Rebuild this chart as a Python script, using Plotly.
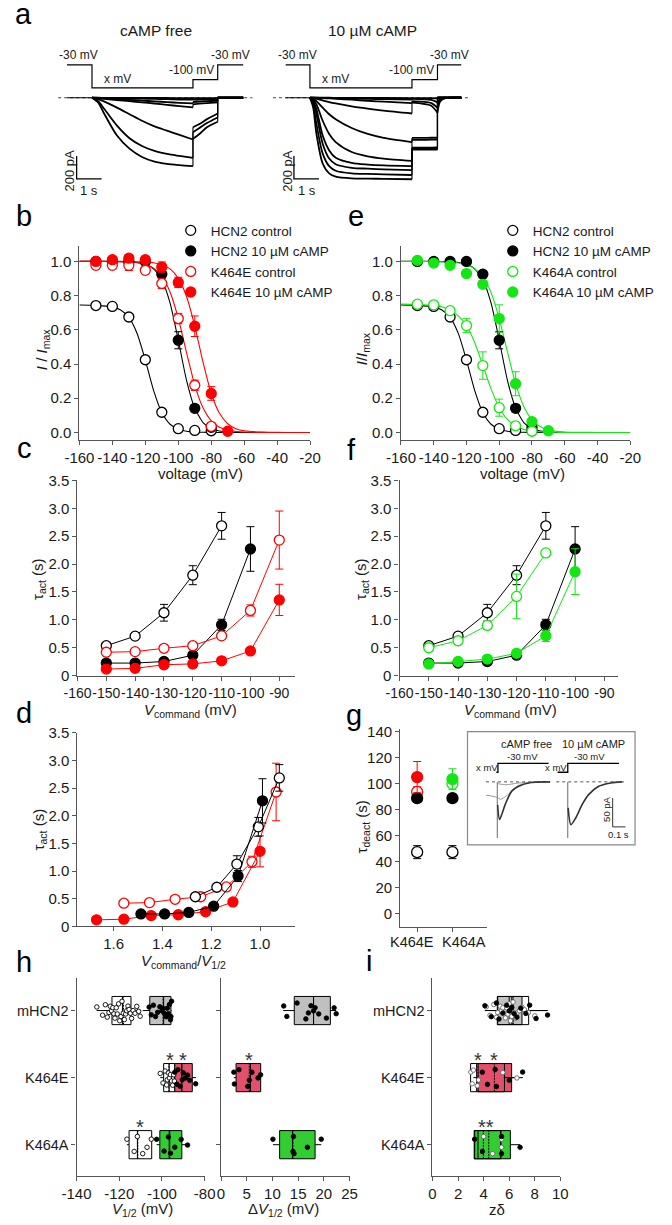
import plotly.graph_objects as go

W, H = 672, 1225
FONT = "Liberation Sans, Arial, Helvetica, sans-serif"
BLACK = "#000000"
RED = "#ff0000"
GREEN = "#14e614"
AXC = "#555555"
TXT = "#1a1a1a"
BOX_GRAY = "#c0c0c0"
BOX_RED = "#e2506c"
BOX_GREEN = "#33cc33"

# ======================= DATA =======================
# ---- panel a : current traces (s, pA) ----
a_free_protocol_t = [-1.0, 0, 0, 4.04, 4.04, 5.03, 5.03, 6.05]
a_free_protocol_mV = [-30, -30, -140, -140, -100, -100, -30, -30]
a_free_t_act = [0, 0.25, 0.5, 1.0, 1.5, 2.0, 2.5, 3.0, 3.5, 4.04]
a_free_I_act = [
    [0, -43, -143, -329, -443, -515, -555, -575, -586, -595],
    [0, -29, -100, -243, -352, -420, -463, -489, -506, -523],
    [0, -11, -34, -86, -143, -200, -249, -286, -323, -363],
    [0, -5, -10, -20, -30, -40, -50, -62, -72, -83],
    [0, -3, -6, -12, -18, -25, -31, -38, -44, -49],
    [0, -1, -2, -4, -6, -8, -10, -12, -15, -17],
    [0, 0, -1, -1, -1, -2, -2, -2, -3, -3],
]
a_free_t_tail = [4.04, 4.3, 4.6, 5.03]
a_free_I_tail = [
    [-357, -315, -257, -209],
    [-300, -263, -220, -172],
    [-257, -229, -186, -137],
    [-57, -51, -46, -40],
    [-37, -34, -29, -26],
    [-17, -17, -14, -11],
    [-3, -3, -3, -3],
]
a_free_t_post = [5.03, 5.3, 5.6, 6.05]
a_free_I_post = [[0, 0, 0, 0]] * 7

a_camp_protocol_t = [-0.97, 0, 0, 4.08, 4.08, 5.1, 5.1, 6.05]
a_camp_protocol_mV = [-30, -30, -140, -140, -100, -100, -30, -30]
a_camp_t_act = [0, 0.13, 0.26, 0.51, 0.77, 1.03, 1.67, 2.31, 2.95, 4.08]
a_camp_I_act = [
    [0, -86, -315, -572, -658, -686, -701, -703, -706, -709],
    [0, -57, -229, -486, -595, -635, -658, -663, -666, -672],
    [0, -37, -143, -400, -529, -578, -609, -617, -623, -629],
    [0, -29, -100, -329, -458, -521, -566, -581, -589, -595],
    [0, -17, -57, -200, -315, -386, -472, -509, -529, -549],
    [0, -9, -29, -86, -143, -186, -263, -315, -349, -386],
    [0, -3, -9, -23, -37, -49, -74, -94, -112, -137],
    [0, 0, -1, -3, -6, -9, -17, -26, -34, -46],
    [0, 0, 0, -1, -2, -3, -6, -9, -12, -17],
    [0, 0, 0, 0, 0, -1, -1, -2, -2, -3],
]
a_camp_t_tail = [4.08, 4.5, 4.85, 5.1]
a_camp_I_tail = [
    [-452, -452, -451, -450],
    [-446, -446, -445, -444],
    [-440, -440, -439, -438],
    [-435, -434, -433, -432],
    [-366, -366, -365, -364],
    [-349, -349, -348, -348],
    [-43, -52, -70, -129],
    [-29, -34, -46, -86],
    [-9, -12, -18, -40],
    [-3, -3, -4, -6],
]
a_camp_t_post = [5.1, 5.2, 5.35, 5.6, 6.05]
a_camp_I_post = [
    [0, 0, 0, 0, 0], [0, 0, 0, 0, 0], [0, 0, 0, 0, 0], [0, 0, 0, 0, 0],
    [0, 0, 0, 0, 0], [0, 0, 0, 0, 0],
    [-129, -35, -8, -1, 0], [-86, -22, -5, 0, 0], [-40, -10, -2, 0, 0], [-6, -2, 0, 0, 0],
]
a_scale_pA = 200
a_scale_s = 1

# ---- panels b / e : activation curves ----
v_pts = [-150, -140, -130, -120, -110, -100, -90, -80, -70]
hcn2_ctrl_I = [0.742, 0.737, 0.675, 0.425, 0.118, 0.022, 0.012, 0.010]
hcn2_ctrl_Ie = [0.01, 0.01, 0.015, 0.02, 0.015, 0.005, 0.005, 0.005]
hcn2_camp_I = [1.0, 1.0, 1.0, 1.0, 0.925, 0.539, 0.141, 0.03]
hcn2_camp_Ie = [0.01, 0.01, 0.01, 0.01, 0.02, 0.05, 0.02, 0.01]
k464e_ctrl_I = [0.977, 0.977, 0.977, 0.948, 0.871, 0.666, 0.276, 0.036]
k464e_ctrl_Ie = [0.02, 0.02, 0.03, 0.02, 0.03, 0.03, 0.03, 0.02]
k464e_camp_I = [1.0, 1.01, 1.019, 1.01, 0.967, 0.877, 0.621, 0.228, 0.007]
k464e_camp_Ie = [0.01, 0.01, 0.015, 0.02, 0.03, 0.03, 0.06, 0.04, 0.005]
k464a_ctrl_I = [0.75, 0.746, 0.712, 0.625, 0.391, 0.145, 0.039, 0.007]
k464a_ctrl_Ie = [0.01, 0.01, 0.01, 0.04, 0.08, 0.05, 0.015, 0.01]
k464a_camp_I = [1.006, 0.99, 0.977, 0.929, 0.866, 0.666, 0.285, 0.063, 0.01]
k464a_camp_Ie = [0.01, 0.01, 0.01, 0.02, 0.02, 0.08, 0.07, 0.02, 0.005]

v_fit = [-160, -150, -140, -135, -130, -125, -120, -115, -110, -105, -100, -95,
         -90, -85, -80, -75, -70, -65, -60, -50, -40, -30, -20]
hcn2_ctrl_fit = [0.745, 0.743, 0.734, 0.716, 0.673, 0.579, 0.423, 0.246, 0.116, 0.048, 0.019,
                 0.007, 0.003, 0.001, 0, 0, 0, 0, 0, 0, 0, 0, 0]
hcn2_camp_fit = [1.0, 1.0, 1.0, 0.999, 0.998, 0.994, 0.983, 0.957, 0.893, 0.757, 0.539, 0.305,
                 0.142, 0.058, 0.023, 0.009, 0.003, 0.001, 0, 0, 0, 0, 0]
k464e_ctrl_fit = [1.0, 1.0, 0.999, 0.998, 0.997, 0.992, 0.982, 0.960, 0.913, 0.821, 0.667, 0.467,
                  0.277, 0.144, 0.068, 0.031, 0.014, 0.006, 0.003, 0.0005, 0, 0, 0]
k464e_camp_fit = [1.0, 1.0, 1.0, 1.0, 0.999, 0.998, 0.996, 0.992, 0.981, 0.956, 0.901, 0.795,
                  0.622, 0.411, 0.228, 0.112, 0.051, 0.022, 0.0095, 0.0017, 0.0003, 0, 0]
k464a_ctrl_fit = [0.75, 0.748, 0.743, 0.735, 0.718, 0.681, 0.625, 0.526, 0.392, 0.255, 0.146, 0.076,
                  0.038, 0.018, 0.009, 0.004, 0.002, 0.001, 0, 0, 0, 0, 0]
k464a_camp_fit = [1.0, 1.0, 0.999, 0.998, 0.996, 0.991, 0.980, 0.957, 0.909, 0.818, 0.666, 0.472,
                  0.285, 0.152, 0.074, 0.035, 0.016, 0.007, 0.003, 0.0006, 0, 0, 0]

# ---- panels c / f : tau act vs voltage ----
v_tau = [-150, -140, -130, -120, -110, -100, -90]
hcn2_ctrl_tau = [0.536, 0.708, 1.127, 1.80, 2.685]
hcn2_ctrl_taue = [0.03, 0.03, 0.15, 0.17, 0.24]
hcn2_camp_tau = [0.225, 0.225, 0.253, 0.366, 0.91, 2.27]
hcn2_camp_taue = [0.02, 0.02, 0.02, 0.03, 0.1, 0.4]
k464e_ctrl_tau = [0.419, 0.43, 0.49, 0.536, 0.713, 1.168, 2.43]
k464e_ctrl_taue = [0.02, 0.02, 0.03, 0.03, 0.05, 0.1, 0.52]
k464e_camp_tau = [0.118, 0.13, 0.195, 0.21, 0.265, 0.442, 1.357]
k464e_camp_taue = [0.02, 0.02, 0.02, 0.02, 0.02, 0.03, 0.28]
k464a_ctrl_tau = [0.5, 0.625, 0.9, 1.42, 2.2]
k464a_ctrl_taue = [0.03, 0.03, 0.07, 0.4, 0.0]
k464a_camp_tau = [0.21, 0.253, 0.296, 0.40, 0.713, 1.864]
k464a_camp_taue = [0.02, 0.02, 0.03, 0.03, 0.1, 0.41]

# ---- panel d : tau act vs Vcommand/V1/2 ----
d_hcn2_ctrl_x = [1.265, 1.177, 1.095, 1.007, 0.921]
d_hcn2_camp_x = [1.488, 1.391, 1.292, 1.19, 1.09, 0.99]
d_k464e_ctrl_x = [1.558, 1.453, 1.348, 1.243, 1.138, 1.033, 0.934]
d_k464e_camp_x = [1.670, 1.558, 1.446, 1.335, 1.223, 1.111, 1.0]

# ---- panel g : tau deact ----
g_cats = ["K464E", "K464A"]
g_hcn2_ctrl = [47.2, 47.2]
g_hcn2_ctrl_e = [5, 5]
g_hcn2_camp = [88.7, 88.7]
g_hcn2_camp_e = [2, 2]
g_mut_ctrl = [93.5, 99.8]
g_mut_ctrl_e = [4, 3]
g_mut_camp = [104.9, 103.3]
g_mut_camp_e = [12, 8]

# inset traces (s, pA)
ins_free_prot_t = [0.226, 0.238, 0.238, 0.634]
ins_camp_prot_t = [0.704, 0.784, 0.784, 1.185]
ins_prot_lvl = [16.6, 16.6, 31.9, 31.9]
ins_free_main_t = [0.236, 0.25, 0.27, 0.295, 0.346, 0.396, 0.496, 0.646]
ins_free_main_I = [-40, -65, -55, -39, -16, -8, -1, 0]
ins_free_gray_t = [0.145, 0.2, 0.233, 0.26, 0.3, 0.35, 0.4, 0.5, 0.646]
ins_free_gray_I = [-23, -25, -27, -30, -25, -15, -6, -1, 0]
ins_free_gray2_t = [0.233, 0.3, 0.4, 0.646]
ins_free_gray2_I = [-3, -5, -2, 0]
ins_camp_main_t = [0.787, 0.809, 0.847, 0.897, 0.947, 1.023, 1.12, 1.21]
ins_camp_main_I = [-45, -74, -62, -39, -22, -8, -2, 0]
ins_spike_I = [0, -97]

# ---- panels h / i : box plots ----
row_order = ["K464A", "K464E", "mHCN2"]
rows = ["mHCN2", "K464E", "K464A"]
# V1/2 (mV)
v12_ctrl_q1 = [-123.4, -99.2, -115.4]
v12_ctrl_med = [-118.5, -96.6, -111.5]
v12_ctrl_mean = [-118.0, -96.8, -111.3]
v12_ctrl_q3 = [-114.5, -94.0, -104.8]
v12_ctrl_lo = [-130.6, -100.8, -116.4]
v12_ctrl_hi = [-110.0, -94.0, -104.8]
v12_camp_q1 = [-105.7, -94.0, -101.0]
v12_camp_med = [-99.2, -90.7, -96.6]
v12_camp_mean = [-99.5, -90.7, -96.3]
v12_camp_q3 = [-95.8, -85.8, -90.7]
v12_camp_lo = [-109.0, -94.0, -102.5]
v12_camp_hi = [-95.5, -84.0, -88.0]
v12_ctrl_pts = [
    [-130.5, -127.8, -126.5, -125.6, -124.8, -124.2, -123.6, -123.0, -122.5, -122.0, -121.4,
     -120.9, -120.3, -119.8, -119.2, -118.7, -118.1, -117.6, -117.0, -116.5, -115.9, -115.4,
     -114.8, -114.2, -113.5, -112.6, -111.8, -110.9, -110.2],
    [-100.8, -99.5, -98.5, -97.8, -97.5, -97.0, -96.5, -96.0, -95.5, -95.0, -94.5, -94.2],
    [-116.4, -113.0, -111.5, -109.0, -107.0, -105.0],
]
v12_camp_pts = [
    [-106.0, -105.0, -104.0, -103.0, -102.0, -101.0, -100.0, -99.5, -99.0, -98.0, -97.5,
     -97.0, -96.5, -96.0, -95.8, -95.5],
    [-94.0, -93.0, -92.5, -91.5, -90.5, -90.0, -89.0, -88.0, -87.0, -84.2],
    [-102.5, -99.0, -97.0, -96.0, -94.0, -91.0, -88.0],
]
# delta V1/2 (mV)
dv12_q1 = [14.25, 2.93, 11.4]
dv12_med = [18.0, 5.73, 13.9]
dv12_mean = [18.0, 5.5, 14.0]
dv12_q3 = [21.27, 7.72, 18.3]
dv12_lo = [12.1, 2.5, 10.1]
dv12_hi = [22.4, 7.72, 19.5]
dv12_pts = [
    [12.2, 12.8, 14.8, 16.5, 17.0, 17.5, 18.0, 18.3, 19.0, 20.5, 22.0, 22.4],
    [2.5, 2.6, 3.5, 5.2, 5.5, 6.0, 7.2, 7.7],
    [10.1, 14.0, 14.1, 14.2, 16.8, 19.5],
]
# z delta
zd_ctrl_q1 = [5.1, 2.98, 3.3]
zd_ctrl_med = [6.0, 3.45, 3.56]
zd_ctrl_mean = [6.3, 3.55, 3.98]
zd_ctrl_q3 = [7.52, 5.63, 5.34]
zd_ctrl_lo = [4.1, 3.1, 3.3]
zd_ctrl_hi = [9.0, 6.6, 5.4]
zd_camp_q1 = [5.07, 3.56, 3.26]
zd_camp_med = [6.2, 5.63, 5.34]
zd_camp_mean = [6.3, 4.84, 4.4]
zd_camp_q3 = [7.0, 6.19, 6.09]
zd_camp_lo = [4.1, 3.2, 3.3]
zd_camp_hi = [9.0, 7.07, 6.85]
zd_ctrl_pts = [
    [4.2, 4.5, 4.8, 5.0, 5.1, 5.3, 5.4, 5.5, 5.6, 5.7, 5.8, 5.9, 6.0, 6.1, 6.2, 6.3, 6.4, 6.5,
     6.6, 6.8, 7.0, 7.2, 7.5, 8.0],
    [3.0, 3.1, 3.2, 3.5, 3.6, 5.5, 6.6],
    [3.3, 3.8, 4.0, 4.7, 5.4, 5.4],
]
zd_camp_pts = [
    [4.1, 4.6, 5.0, 5.2, 5.5, 5.8, 6.0, 6.2, 6.4, 6.6, 6.9, 7.3, 7.6, 8.1, 9.0],
    [3.9, 4.3, 4.9, 5.0, 6.0, 7.05],
    [3.3, 3.9, 5.4, 5.4, 6.85],
]

# ======================= FIGURE =======================
fig = go.Figure()


def dom_x(a, b):
    return [a / W, b / W]


def dom_y(top, bot):
    return [1 - bot / H, 1 - top / H]


def axis(domain, rng, anchor, **kw):
    d = dict(domain=domain, range=rng, anchor=anchor, showline=True, linecolor=AXC,
             linewidth=1.2, ticks="outside", ticklen=4, tickwidth=1.1, tickcolor=AXC,
             showgrid=False, zeroline=False, fixedrange=True, tickangle=0,
             tickfont=dict(size=15, color=TXT, family=FONT))
    d.update(kw)
    return d


def hidden(domain, rng, anchor):
    return dict(domain=domain, range=rng, anchor=anchor, visible=False, fixedrange=True)


# ---------- panel a ----------
def trace_panel(prot_t, prot_mV, t_act, I_act, t_tail, I_tail, t_post, I_post, xp, yp, xa, ya):
    fig.add_trace(go.Scatter(x=prot_t, y=prot_mV, mode="lines", line=dict(color=BLACK, width=1.2),
                             xaxis=xp, yaxis=yp, showlegend=False, hoverinfo="skip"))
    sx, sy, lx, ly = [], [], [prot_t[0], 0], [0, 0]
    for ia, it, ip in zip(I_act, I_tail, I_post):
        sx += t_act + [None] + t_tail + [None] + t_post + [None]
        sy += ia + [None] + it + [None] + ip + [None]
        lx += [None, t_act[-1], t_tail[0], None, t_tail[-1], t_post[0]]
        ly += [None, ia[-1], it[0], None, it[-1], ip[0]]
    fig.add_trace(go.Scatter(x=lx, y=ly, mode="lines", line=dict(color=BLACK, width=1.1),
                             xaxis=xa, yaxis=ya, showlegend=False, hoverinfo="skip"))
    fig.add_trace(go.Scatter(x=sx, y=sy, mode="lines", connectgaps=False,
                             line=dict(color=BLACK, width=1.8, shape="spline", smoothing=0.8),
                             xaxis=xa, yaxis=ya, showlegend=False, hoverinfo="skip"))


trace_panel(a_free_protocol_t, a_free_protocol_mV, a_free_t_act, a_free_I_act, a_free_t_tail,
            a_free_I_tail, a_free_t_post, a_free_I_post, "x", "y", "x2", "y2")
trace_panel(a_camp_protocol_t, a_camp_protocol_mV, a_camp_t_act, a_camp_I_act, a_camp_t_tail,
            a_camp_I_tail, a_camp_t_post, a_camp_I_post, "x3", "y3", "x4", "y4")


# ---------- helpers for line+marker series ----------
def series(x, y, err, color, filled, xa, ya, size=10, line=True):
    fig.add_trace(go.Scatter(
        x=x, y=y, mode="lines+markers" if line else "markers",
        line=dict(color=color, width=1),
        marker=dict(symbol="circle", size=size, color=color if filled else "white",
                    line=dict(color=color, width=1.3)),
        error_y=dict(type="data", array=err, color=color, thickness=1, width=4) if err else None,
        xaxis=xa, yaxis=ya, showlegend=False, hoverinfo="skip"))


def fitline(y, color, xa, ya):
    fig.add_trace(go.Scatter(x=v_fit, y=y, mode="lines",
                             line=dict(color=color, width=1.1, shape="spline", smoothing=0.6),
                             xaxis=xa, yaxis=ya, showlegend=False, hoverinfo="skip"))


def legend_item(name, color, filled, leg):
    fig.add_trace(go.Scatter(x=[None], y=[None], mode="markers", name=name, legend=leg,
                             marker=dict(symbol="circle", size=10, color=color if filled else "white",
                                         line=dict(color=color, width=1.3)),
                             xaxis="x5", yaxis="y5", showlegend=True))


# panel b
fitline(hcn2_ctrl_fit, BLACK, "x5", "y5")
fitline(hcn2_camp_fit, BLACK, "x5", "y5")
fitline(k464e_ctrl_fit, RED, "x5", "y5")
fitline(k464e_camp_fit, RED, "x5", "y5")
series(v_pts[:8], hcn2_ctrl_I, hcn2_ctrl_Ie, BLACK, False, "x5", "y5", line=False)
series(v_pts[:8], hcn2_camp_I, hcn2_camp_Ie, BLACK, True, "x5", "y5", line=False)
series(v_pts[:8], k464e_ctrl_I, k464e_ctrl_Ie, RED, False, "x5", "y5", line=False)
series(v_pts, k464e_camp_I, k464e_camp_Ie, RED, True, "x5", "y5", line=False)
legend_item("HCN2 control", BLACK, False, "legend")
legend_item("HCN2 10 µM cAMP", BLACK, True, "legend")
legend_item("K464E control", RED, False, "legend")
legend_item("K464E 10 µM cAMP", RED, True, "legend")

# panel e
fitline(hcn2_ctrl_fit, BLACK, "x6", "y6")
fitline(hcn2_camp_fit, BLACK, "x6", "y6")
fitline(k464a_ctrl_fit, GREEN, "x6", "y6")
fitline(k464a_camp_fit, GREEN, "x6", "y6")
series(v_pts[:8], hcn2_ctrl_I, hcn2_ctrl_Ie, BLACK, False, "x6", "y6", line=False)
series(v_pts[:8], hcn2_camp_I, hcn2_camp_Ie, BLACK, True, "x6", "y6", line=False)
series(v_pts[:8], k464a_ctrl_I, k464a_ctrl_Ie, GREEN, False, "x6", "y6", line=False)
series(v_pts, k464a_camp_I, k464a_camp_Ie, GREEN, True, "x6", "y6", line=False)
legend_item("HCN2 control", BLACK, False, "legend2")
legend_item("HCN2 10 µM cAMP", BLACK, True, "legend2")
legend_item("K464A control", GREEN, False, "legend2")
legend_item("K464A 10 µM cAMP", GREEN, True, "legend2")

# panel c
series(v_tau[:5], hcn2_ctrl_tau, hcn2_ctrl_taue, BLACK, False, "x7", "y7")
series(v_tau[:6], hcn2_camp_tau, hcn2_camp_taue, BLACK, True, "x7", "y7")
series(v_tau, k464e_ctrl_tau, k464e_ctrl_taue, RED, False, "x7", "y7")
series(v_tau, k464e_camp_tau, k464e_camp_taue, RED, True, "x7", "y7")
# panel f
series(v_tau[:5], hcn2_ctrl_tau, hcn2_ctrl_taue, BLACK, False, "x8", "y8")
series(v_tau[:6], hcn2_camp_tau, hcn2_camp_taue, BLACK, True, "x8", "y8")
series(v_tau[:5], k464a_ctrl_tau, k464a_ctrl_taue, GREEN, False, "x8", "y8")
series(v_tau[:6], k464a_camp_tau, k464a_camp_taue, GREEN, True, "x8", "y8")
# panel d
series(d_k464e_ctrl_x, k464e_ctrl_tau, k464e_ctrl_taue, RED, False, "x9", "y9")
series(d_k464e_camp_x, k464e_camp_tau, k464e_camp_taue, RED, True, "x9", "y9")
series(d_hcn2_ctrl_x, hcn2_ctrl_tau, hcn2_ctrl_taue, BLACK, False, "x9", "y9")
series(d_hcn2_camp_x, hcn2_camp_tau, hcn2_camp_taue, BLACK, True, "x9", "y9")

# panel g
series(g_cats, g_hcn2_ctrl, g_hcn2_ctrl_e, BLACK, False, "x10", "y10", size=11, line=False)
for i, col in enumerate([RED, GREEN]):
    series([g_cats[i]], [g_mut_ctrl[i]], [g_mut_ctrl_e[i]], col, False, "x10", "y10", size=11, line=False)
series(g_cats, g_hcn2_camp, g_hcn2_camp_e, BLACK, True, "x10", "y10", size=11, line=False)
for i, col in enumerate([RED, GREEN]):
    series([g_cats[i]], [g_mut_camp[i]], [g_mut_camp_e[i]], col, True, "x10", "y10", size=11, line=False)

# inset of g
for pt in (ins_free_prot_t, ins_camp_prot_t):
    fig.add_trace(go.Scatter(x=pt, y=ins_prot_lvl, mode="lines", line=dict(color=BLACK, width=1.3),
                             xaxis="x11", yaxis="y11", showlegend=False, hoverinfo="skip"))
for t0 in (ins_free_main_t[0] - 0.003, ins_camp_main_t[0] - 0.003):
    fig.add_trace(go.Scatter(x=[t0, t0], y=ins_spike_I, mode="lines", line=dict(color="#444", width=0.8),
                             xaxis="x11", yaxis="y11", showlegend=False, hoverinfo="skip"))
for tx, ty, col, wd in [(ins_free_gray_t, ins_free_gray_I, "#999999", 1.0),
                        (ins_free_gray2_t, ins_free_gray2_I, "#999999", 1.0),
                        (ins_free_main_t, ins_free_main_I, "#333333", 1.6),
                        (ins_camp_main_t, ins_camp_main_I, "#333333", 1.6)]:
    fig.add_trace(go.Scatter(x=tx, y=ty, mode="lines", line=dict(color=col, width=wd, shape="spline", smoothing=0.8),
                             xaxis="x11", yaxis="y11", showlegend=False, hoverinfo="skip"))


# panels h / i : boxes
def one_box(row, q1, med, mean, q3, lo, hi, fill, xa, ya):
    fig.add_trace(go.Box(y=[row], q1=[q1], median=[med], mean=[mean], q3=[q3], lowerfence=[lo],
                         upperfence=[hi], orientation="h", boxmean=True, fillcolor=fill, width=0.42,
                         line=dict(color=BLACK, width=1), whiskerwidth=0, boxpoints=False,
                         xaxis=xa, yaxis=ya, showlegend=False, hoverinfo="skip"))


def points(vals, row, filled, xa, ya, jitter=0.75, ocol=BLACK):
    fig.add_trace(go.Box(x=vals, y=[row] * len(vals), orientation="h", boxpoints="all", jitter=jitter,
                         pointpos=0, width=0.42, fillcolor="rgba(0,0,0,0)",
                         line=dict(color="rgba(0,0,0,0)", width=0),
                         marker=dict(size=4.5, color=BLACK if filled else "white",
                                     line=dict(color=ocol, width=0.9)),
                         xaxis=xa, yaxis=ya, showlegend=False, hoverinfo="skip"))


camp_fills = [BOX_GRAY, BOX_RED, BOX_GREEN]
for k, r in enumerate(rows):
    one_box(r, v12_ctrl_q1[k], v12_ctrl_med[k], v12_ctrl_mean[k], v12_ctrl_q3[k], v12_ctrl_lo[k],
            v12_ctrl_hi[k], "white", "x12", "y12")
    one_box(r, v12_camp_q1[k], v12_camp_med[k], v12_camp_mean[k], v12_camp_q3[k], v12_camp_lo[k],
            v12_camp_hi[k], camp_fills[k], "x12", "y12")
    points(v12_ctrl_pts[k], r, False, "x12", "y12")
    points(v12_camp_pts[k], r, True, "x12", "y12")
    one_box(r, dv12_q1[k], dv12_med[k], dv12_mean[k], dv12_q3[k], dv12_lo[k], dv12_hi[k],
            camp_fills[k], "x13", "y13")
    points(dv12_pts[k], r, True, "x13", "y13")
    one_box(r, zd_camp_q1[k], zd_camp_med[k], zd_camp_mean[k], zd_camp_q3[k], zd_camp_lo[k],
            zd_camp_hi[k], camp_fills[k], "x14", "y14")
    one_box(r, zd_ctrl_q1[k], zd_ctrl_med[k], zd_ctrl_mean[k], zd_ctrl_q3[k], zd_ctrl_lo[k],
            zd_ctrl_hi[k], "rgba(255,255,255,0)", "x14", "y14")
    points(zd_ctrl_pts[k], r, False, "x14", "y14", ocol="#666666")
    points(zd_camp_pts[k], r, True, "x14", "y14")

# ======================= LAYOUT =======================
lay = {}
lay["xaxis"] = hidden(dom_x(45, 247), [-1.35, 6.42], "y")
lay["yaxis"] = hidden(dom_y(54.6, 82.1), [-150, -20], "x")
lay["xaxis2"] = hidden(dom_x(45, 247), [-1.35, 6.42], "y2")
lay["yaxis2"] = hidden(dom_y(85, 180), [-772, 43], "x2")
lay["xaxis3"] = hidden(dom_x(268.3, 473.3), [-1.48, 6.4], "y3")
lay["yaxis3"] = hidden(dom_y(54.6, 82.1), [-150, -20], "x3")
lay["xaxis4"] = hidden(dom_x(268.3, 473.3), [-1.48, 6.4], "y4")
lay["yaxis4"] = hidden(dom_y(85, 180), [-772, 43], "x4")

vt20 = list(range(-160, -19, 20))
yt_I = [0, 0.2, 0.4, 0.6, 0.8, 1.0]
yt_Itxt = ["0.0", "0.2", "0.4", "0.6", "0.8", "1.0"]
lay["xaxis5"] = axis(dom_x(67, 307), [-160, -20], "y5", tickvals=vt20, ticktext=[str(v) for v in vt20])
lay["yaxis5"] = axis(dom_y(240, 436.7), [-0.042, 1.092], "x5", tickvals=yt_I, ticktext=yt_Itxt)
lay["xaxis6"] = axis(dom_x(401.5, 640), [-160, -20], "y6", tickvals=vt20, ticktext=[str(v) for v in vt20])
lay["yaxis6"] = axis(dom_y(240, 436.7), [-0.042, 1.092], "x6", tickvals=yt_I, ticktext=yt_Itxt)

vt10 = list(range(-160, -89, 10))
yt_tau = [0, 0.5, 1.0, 1.5, 2.0, 2.5, 3.0, 3.5]
yt_tautxt = ["0", "0.5", "1.0", "1.5", "2.0", "2.5", "3.0", "3.5"]
small = dict(size=14, color=TXT, family=FONT)
lay["xaxis7"] = axis(dom_x(65, 291.7), [-160, -84.4], "y7", tickvals=vt10, ticktext=[str(v) for v in vt10],
                     tickfont=small)
lay["yaxis7"] = axis(dom_y(478, 676), [0, 3.5], "x7", tickvals=yt_tau, ticktext=yt_tautxt)
lay["xaxis8"] = axis(dom_x(400, 627.7), [-160, -85.2], "y8", tickvals=vt10, ticktext=[str(v) for v in vt10],
                     tickfont=small)
lay["yaxis8"] = axis(dom_y(478, 676), [0, 3.5], "x8", tickvals=yt_tau, ticktext=yt_tautxt)
lay["xaxis9"] = axis(dom_x(65, 291.7), [1.748, 0.855], "y9", tickvals=[1.6, 1.4, 1.2, 1.0],
                     ticktext=["1.6", "1.4", "1.2", "1.0"])
lay["yaxis9"] = axis(dom_y(734, 930.3), [0, 3.5], "x9", tickvals=yt_tau, ticktext=yt_tautxt)
lay["xaxis10"] = axis(dom_x(400.7, 490.7), [-0.48, 1.97], "y10", type="category", categoryorder="array",
                      categoryarray=g_cats, showticklabels=False)
lay["yaxis10"] = axis(dom_y(730, 930.7), [-10.2, 142], "x10", tickvals=list(range(0, 141, 20)))
lay["xaxis11"] = hidden(dom_x(470.7, 645), [0, 1.31], "y11")
lay["yaxis11"] = hidden(dom_y(732.7, 847.7), [-109, 87], "x11")

vh = [-140, -120, -100, -80]
lay["xaxis12"] = axis(dom_x(64, 197.3), [-140, -80], "y12", tickvals=vh, ticktext=[str(v) for v in vh])
lay["yaxis12"] = axis(dom_y(983, 1183.3), [-0.465, 2.48], "x12", type="category", categoryorder="array",
                      categoryarray=row_order, tickfont=dict(size=14.5, color=TXT, family=FONT))
lay["xaxis13"] = axis(dom_x(214.3, 348), [0, 25], "y13", tickvals=[0, 5, 10, 15, 20, 25])
lay["yaxis13"] = axis(dom_y(983, 1183.3), [-0.465, 2.48], "x13", type="category", categoryorder="array",
                      categoryarray=row_order, showticklabels=False)
lay["xaxis14"] = axis(dom_x(434.3, 567.3), [0, 10], "y14", tickvals=[0, 2, 4, 6, 8, 10])
lay["yaxis14"] = axis(dom_y(983, 1183.3), [-0.465, 2.48], "x14", type="category", categoryorder="array",
                      categoryarray=row_order, tickfont=dict(size=14.5, color=TXT, family=FONT))

ann = []


def txt(x, y, s, size=15, angle=0, xanchor="center", color=TXT, **kw):
    d = dict(x=x / W, y=1 - y / H, xref="paper", yref="paper", text=s, showarrow=False,
             font=dict(size=size, color=color, family=FONT), textangle=angle,
             xanchor=xanchor, yanchor="middle")
    d.update(kw)
    ann.append(d)


# panel letters
for s, x, y in [("a", 9, 5), ("b", 9, 210), ("e", 355, 210), ("c", 10, 445), ("f", 350, 447),
                ("d", 9, 714), ("g", 353, 716), ("h", 9, 966), ("i", 368, 965)]:
    txt(x, y, s, size=29, color=BLACK)

# panel a text
txt(147, 22, "cAMP free", size=15.5)
txt(372, 22, "10 µM cAMP", size=15.5)
for x, y, s in [(66, 47, "-30 mV"), (107, 71, "x mV"), (184, 62, "-100 mV"), (224, 47, "-30 mV"),
                (294, 47, "-30 mV"), (333, 71, "x mV"), (412, 62, "-100 mV"), (452, 47, "-30 mV")]:
    txt(x, y, s, size=12)
txt(57, 164, "200 pA", size=13, angle=-90)
txt(77, 184, "1 s", size=13)
txt(284, 164, "200 pA", size=13, angle=-90)
txt(304, 184, "1 s", size=13)

# axis titles
txt(193, 471, "voltage (mV)")
txt(528, 471, "voltage (mV)")
txt(28, 345, "<i>I</i> / <i>I</i><sub>max</sub>", angle=-90)
txt(361, 345, "<i>I</i>/<i>I</i><sub>max</sub>", angle=-90)
txt(183, 711, "<i>V</i><sub>command</sub> (mV)")
txt(515, 711, "<i>V</i><sub>command</sub> (mV)")
txt(25, 578, "τ<sub>act</sub> (s)", angle=-90)
txt(361, 578, "τ<sub>act</sub> (s)", angle=-90)
txt(25, 832, "τ<sub>act</sub> (s)", angle=-90)
txt(175, 966, "<i>V</i><sub>command</sub>/<i>V</i><sub>1/2</sub>")
txt(361, 830, "τ<sub>deact</sub> (s)", angle=-90)
txt(133, 1217, "<i>V</i><sub>1/2</sub> (mV)")
txt(279, 1217, "Δ<i>V</i><sub>1/2</sub> (mV)")
txt(501, 1217, "zδ")
# panel g category labels
txt(413, 946, g_cats[0], size=14.5)
txt(467, 946, g_cats[1], size=14.5)

# inset texts
txt(531.7, 745, "cAMP free", size=11)
txt(601.7, 745, "10 µM cAMP", size=11)
txt(528, 758, "-30 mV", size=9.5)
txt(598, 758, "-30 mV", size=9.5)
txt(491, 769, "x mV", size=9.5)
txt(563, 769, "x mV", size=9.5)
txt(616, 812, "50 pA", size=9.5, angle=-90)
txt(628, 837, "0.1 s", size=9.5)


# asterisks (data coordinates)
def star(x, y, xa, ya, s="*"):
    ann.append(dict(x=x, y=y, xref=xa, yref=ya, text=s, showarrow=False,
                    font=dict(size=20, color="#333", family=FONT), xanchor="center", yanchor="middle"))


star(-96.3, 1.27, "x12", "y12")
star(-90.0, 1.27, "x12", "y12")
star(-110.1, 0.27, "x12", "y12")
star(5.5, 1.27, "x13", "y13")
star(3.56, 1.27, "x14", "y14")
star(4.81, 1.27, "x14", "y14")
star(4.19, 0.27, "x14", "y14", "**")

shapes = []
# dotted baselines panel a
for xa, ya in [("x2", "y2"), ("x4", "y4")]:
    shapes.append(dict(type="line", xref=xa + " domain", x0=0, x1=1, yref=ya, y0=0, y1=0,
                       line=dict(color="#444", width=1, dash="dot"), layer="below"))
# scale bars panel a
for xa, ya, t0 in [("x2", "y2", -0.615), ("x4", "y4", -0.64)]:
    shapes.append(dict(type="path", xref=xa, yref=ya,
                       path=f"M {t0},{-706 + a_scale_pA} L {t0},-706 L {t0 + a_scale_s},-706",
                       line=dict(color=BLACK, width=1.3)))
# inset frame
shapes.append(dict(type="rect", xref="paper", yref="paper", x0=470.7 / W, x1=645 / W,
                   y0=1 - 847.7 / H, y1=1 - 732.7 / H, line=dict(color="#888", width=1.2)))
for t0, t1 in [(0.145, 0.646), (0.694, 1.224)]:
    shapes.append(dict(type="line", xref="x11", yref="y11", x0=t0, x1=t1, y0=0, y1=0,
                       line=dict(color="#555", width=1, dash="dot")))
shapes.append(dict(type="path", xref="x11", yref="y11", path="M 1.135,-27.8 L 1.135,-77.8 L 1.235,-77.8",
                   line=dict(color="#333", width=1)))

leg_common = dict(xanchor="left", yanchor="top", bgcolor="rgba(0,0,0,0)",
                  font=dict(size=13.5, color=TXT, family=FONT), itemwidth=30, tracegroupgap=0,
                  traceorder="normal")
fig.update_layout(
    width=W, height=H, margin=dict(l=0, r=0, t=0, b=0), paper_bgcolor="white", plot_bgcolor="white",
    font=dict(family=FONT, color=TXT), boxmode="overlay", showlegend=True,
    legend=dict(x=162 / W, y=1 - 209 / H, **leg_common),
    legend2=dict(x=497 / W, y=1 - 209 / H, **leg_common),
    annotations=ann, shapes=shapes, **lay)

fig.write_html("out.html", config={"displayModeBar": False},
               post_script="document.body.style.margin='0';document.body.style.overflow='hidden';"
                           "document.documentElement.style.overflow='hidden';")
